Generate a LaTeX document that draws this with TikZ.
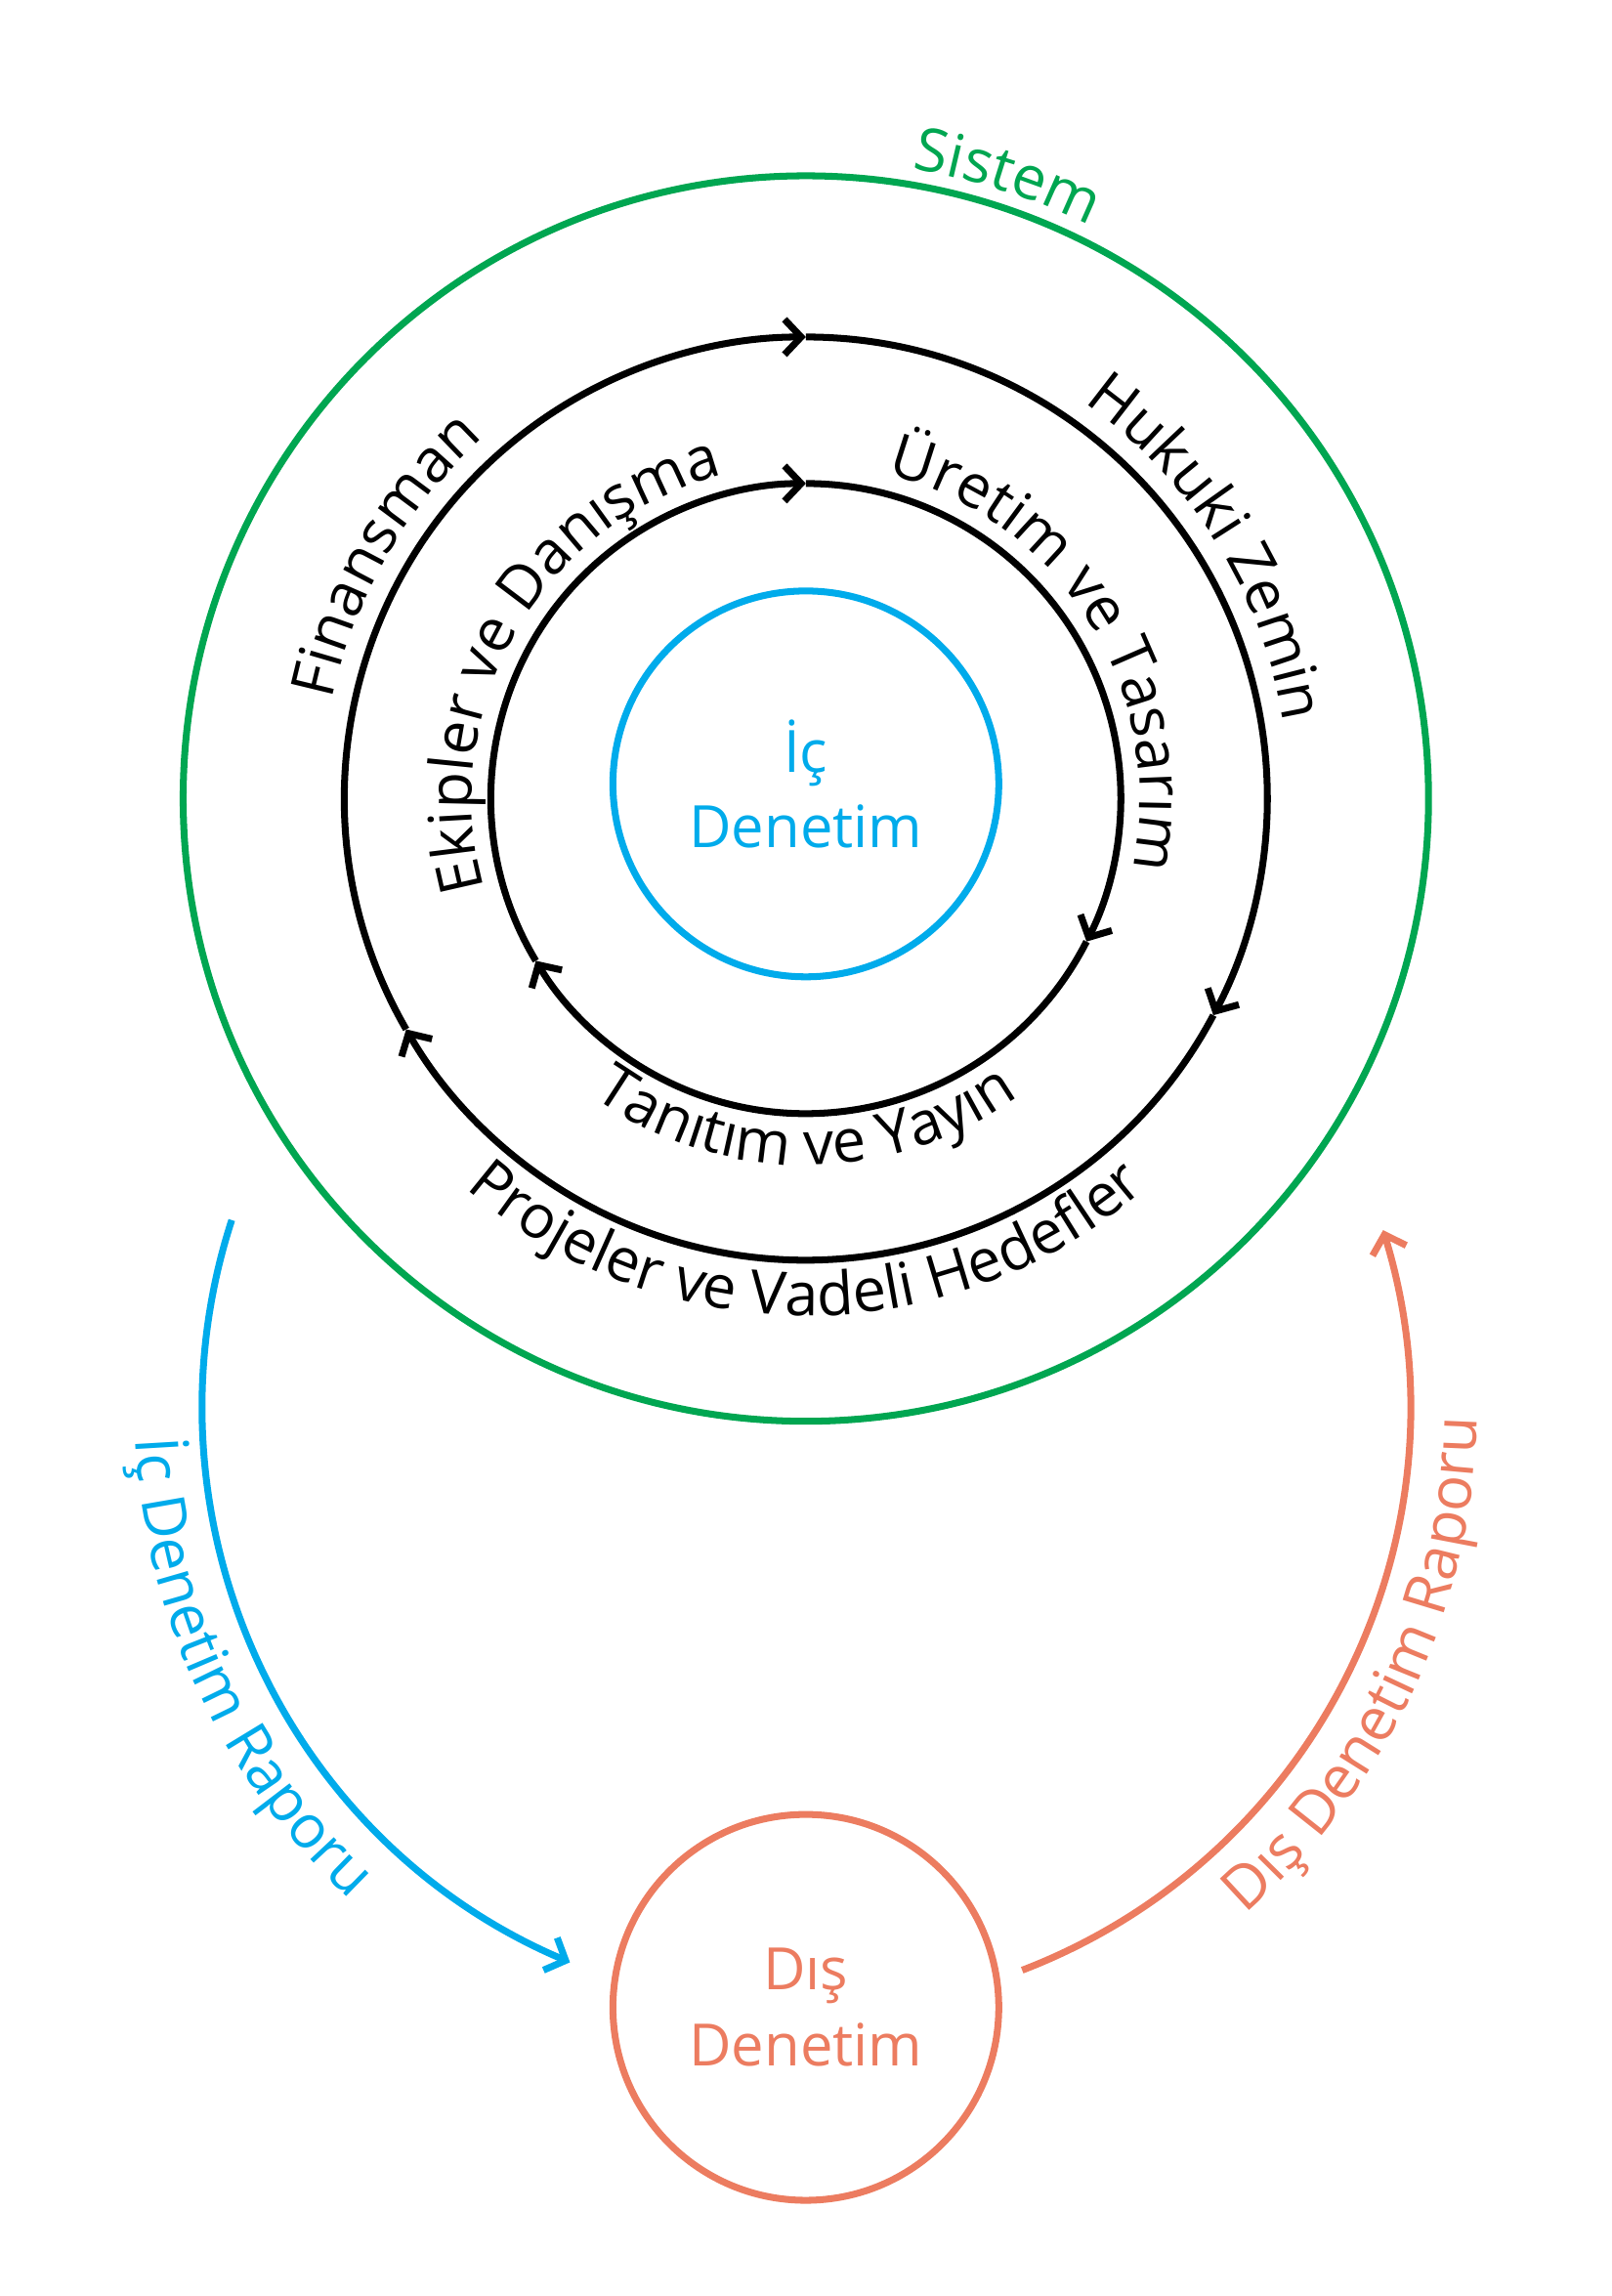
\documentclass[tikz,border=0pt]{standalone}
\usepackage{fontspec}
\setmainfont{Open Sans}
\usetikzlibrary{arrows.meta,decorations.text}
\definecolor{sysgreen}{RGB}{0,166,81}
\definecolor{icblue}{RGB}{0,171,235}
\definecolor{disorange}{RGB}{236,124,96}
\newcommand{\ringfont}{\fontsize{17.5}{20}\selectfont}
\begin{document}
\begin{tikzpicture}[
    x=0.15mm, y=0.15mm,
    ring/.style={line width=2pt},
    ringarrow/.style={ring, -{Straight Barb[length=1.7mm,width=3.6mm]}},
    audit/.style={circle, line width=2pt, minimum size=39.5mm, align=center,
        font=\fontsize{17}{22}\selectfont},
    flowarrow/.style={line width=2pt, -{Straight Barb[length=1.7mm,width=3.6mm]}},
    curvetext/.style={decorate, decoration={text along path, text align=center, text={#1}}}
]
\useasboundingbox (0,0) rectangle (1100,-1567);

% Merkezler
\coordinate (C) at (550,-545);
\coordinate (R) at (550,-960);

% Sistem
\draw[sysgreen, ring] (C) circle[radius=425];
\path[curvetext={|\ringfont\color{sysgreen}|Sistem}] ([shift={(102:436)}]C) arc[start angle=102, end angle=42, radius=436];

% Dis halka
\draw[ringarrow] ([shift={(210:315)}]C) arc[start angle=210, end angle=90, radius=315];
\draw[ringarrow] ([shift={(90:315)}]C) arc[start angle=90, end angle=-28, radius=315];
\draw[ringarrow] ([shift={(-28:315)}]C) arc[start angle=-28, end angle=-150, radius=315];

% Ic halka
\draw[ringarrow] ([shift={(211:215)}]C) arc[start angle=211, end angle=90, radius=215];
\draw[ringarrow] ([shift={(90:215)}]C) arc[start angle=90, end angle=-27, radius=215];
\draw[ringarrow] ([shift={(-27:215)}]C) arc[start angle=-27, end angle=-149, radius=215];

% Halka etiketleri
\path[curvetext={|\ringfont|Finansman}] ([shift={(190:330)}]C) arc[start angle=190, end angle=110, radius=330];
\path[curvetext={|\ringfont|Hukuki Zemin}] ([shift={(75:330)}]C) arc[start angle=75, end angle=-11, radius=330];
\path[curvetext={|\ringfont|Ekipler ve Danışma}] ([shift={(212:228)}]C) arc[start angle=212, end angle=88, radius=228];
\path[curvetext={|\ringfont|Üretim ve Tasarım}] ([shift={(94:228)}]C) arc[start angle=94, end angle=-30, radius=228];
\path[curvetext={|\ringfont|Tanıtım ve Yayın}] ([shift={(210:250)}]C) arc[start angle=210, end angle=330, radius=250];
\path[curvetext={|\ringfont|Projeler ve Vadeli Hedefler}] ([shift={(200:353)}]C) arc[start angle=200, end angle=340, radius=353];

% Denetim dugumleri
\node[audit, draw=icblue, text=icblue] (icdenetim) at (550,-535) {İç\\Denetim};
\node[audit, draw=disorange, text=disorange] (disdenetim) at (550,-1370) {Dış\\Denetim};

% Rapor oklari
\coordinate (icstart) at ([shift={(162:412)}]R);
\coordinate (disstart) at ([shift={(-69:412)}]R);
\draw[flowarrow, icblue] (icstart) arc[start angle=162, end angle=247, radius=412];
\draw[flowarrow, disorange] (disstart) arc[start angle=-69, end angle=17, radius=412];
\path[curvetext={|\ringfont\color{icblue}|İç Denetim Raporu}] ([shift={(166:458)}]R) arc[start angle=166, end angle=244, radius=458];
\path[curvetext={|\ringfont\color{disorange}|Dış Denetim Raporu}] ([shift={(-64:458)}]R) arc[start angle=-64, end angle=14, radius=458];

\end{tikzpicture}
\end{document}
